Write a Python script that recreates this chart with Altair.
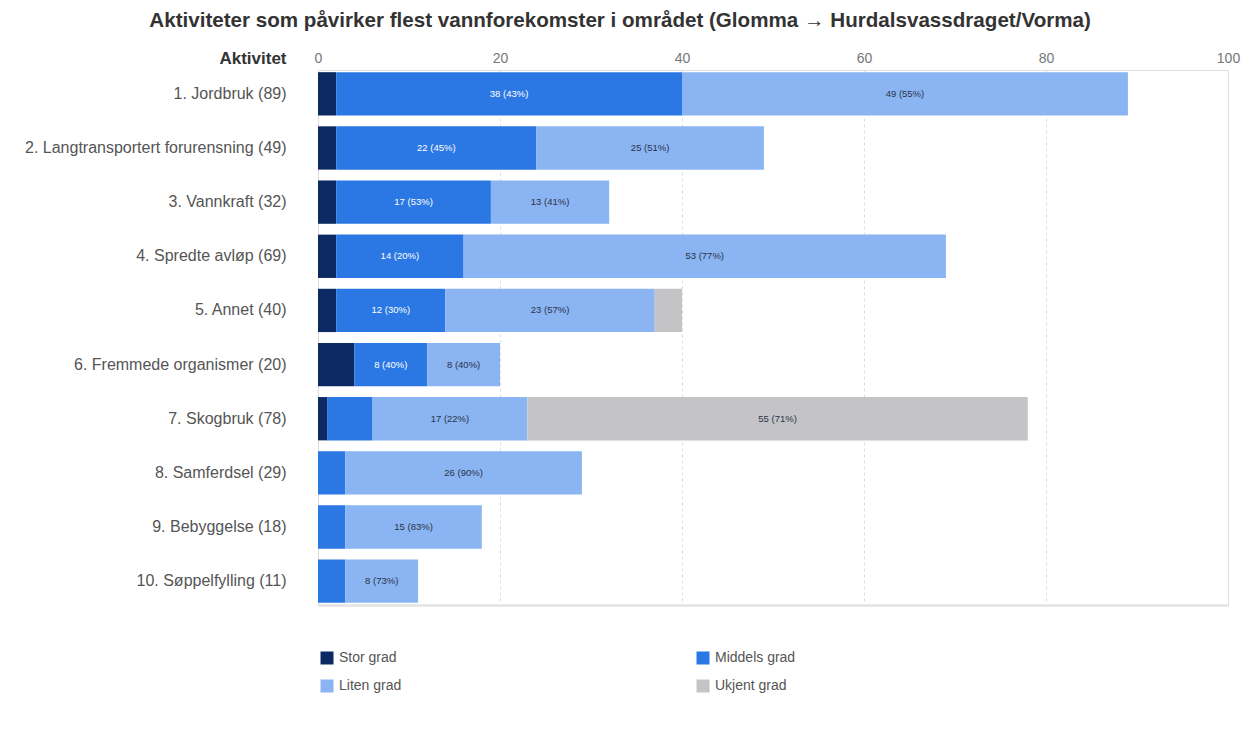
import altair as alt
import pandas as pd

activities = [
    "1. Jordbruk (89)",
    "2. Langtransportert forurensning (49)",
    "3. Vannkraft (32)",
    "4. Spredte avløp (69)",
    "5. Annet (40)",
    "6. Fremmede organismer (20)",
    "7. Skogbruk (78)",
    "8. Samferdsel (29)",
    "9. Bebyggelse (18)",
    "10. Søppelfylling (11)",
]
levels = ["Stor grad", "Middels grad", "Liten grad", "Ukjent grad"]
colors = ["#0b2a63", "#2b78e4", "#8ab4f2", "#c4c4c7"]

stor = [2, 2, 2, 2, 2, 4, 1, 0, 0, 0]
middels = [38, 22, 17, 14, 12, 8, 5, 3, 3, 3]
liten = [49, 25, 13, 53, 23, 8, 17, 26, 15, 8]
ukjent = [0, 0, 0, 0, 3, 0, 55, 0, 0, 0]

# percentages as printed in the bars (None = no label shown)
stor_pct = [None] * 10
middels_pct = [43, 45, 53, 20, 30, 40, None, None, None, None]
liten_pct = [55, 51, 41, 77, 57, 40, 22, 90, 83, 73]
ukjent_pct = [None, None, None, None, None, None, 71, None, None, None]

rows = []
for lvl_i, (lvl, vals, pcts) in enumerate(zip(
        levels, [stor, middels, liten, ukjent],
        [stor_pct, middels_pct, liten_pct, ukjent_pct])):
    for a, v, p in zip(activities, vals, pcts):
        if v > 0:
            rows.append({
                "activity": a,
                "level": lvl,
                "order": lvl_i,
                "value": v,
                "label": f"{v} ({p}%)" if p is not None else "",
            })
df = pd.DataFrame(rows)

FONT = "Liberation Sans"

base = alt.Chart(df).transform_stack(
    stack="value",
    groupby=["activity"],
    as_=["x0", "x1"],
    sort=[alt.SortField("order", order="ascending")],
)

y_enc = alt.Y(
    "activity:N",
    sort=activities,
    scale=alt.Scale(paddingInner=0.2, paddingOuter=0.04),
    axis=alt.Axis(
        title="Aktivitet",
        titleAngle=0,
        titleAlign="right",
        titleBaseline="middle",
        titleX=-32,
        titleY=-12,
        titleFontSize=17,
        titleFontWeight="bold",
        titleColor="#333333",
        titleFont=FONT,
        labelFontSize=16,
        labelColor="#555555",
        labelFont=FONT,
        labelPadding=32,
        labelLimit=400,
        ticks=False,
        domain=False,
    ),
)

bars = base.mark_bar().encode(
    y=y_enc,
    x=alt.X(
        "x0:Q",
        scale=alt.Scale(domain=[0, 100], nice=False),
        axis=alt.Axis(
            orient="top",
            title=None,
            values=[0, 20, 40, 60, 80, 100],
            labelFontSize=14,
            labelColor="#777777",
            labelFont=FONT,
            labelPadding=5,
            labelFlush=False,
            ticks=False,
            domain=False,
            grid=True,
            gridColor="#dddddd",
            gridDash=[3, 3],
        ),
    ),
    x2="x1:Q",
    color=alt.Color(
        "level:N",
        scale=alt.Scale(domain=levels, range=colors),
        legend=alt.Legend(
            title=None,
            orient="none",
            direction="horizontal",
            legendX=2,
            legendY=581,
            columns=2,
            columnPadding=294,
            rowPadding=14,
            symbolType="square",
            symbolSize=169,
            symbolStrokeWidth=0,
            labelFontSize=14,
            labelColor="#555555",
            labelFont=FONT,
            labelOffset=5,
        ),
    ),
)

text_base = base.transform_filter("datum.label != ''").transform_calculate(
    mid="(datum.x0 + datum.x1) / 2"
)

x_text = alt.X(
    "mid:Q",
    axis=alt.Axis(
        orient="bottom",
        title=None,
        labels=False,
        ticks=False,
        grid=False,
        domain=True,
        domainColor="#e3e3e3",
        domainWidth=2,
    ),
)

text_white = text_base.transform_filter(
    "datum.level == 'Middels grad'"
).mark_text(fontSize=9.5, font=FONT, color="#ffffff").encode(
    y=alt.Y("activity:N", sort=activities),
    x=x_text,
    text="label:N",
)

text_dark = text_base.transform_filter(
    "datum.level != 'Middels grad'"
).mark_text(fontSize=9.5, font=FONT, color="#2a3348").encode(
    y=alt.Y("activity:N", sort=activities),
    x=x_text,
    text="label:N",
)

chart = alt.layer(bars, text_white, text_dark).resolve_axis(
    x="independent"
).properties(
    width=910,
    height=535,
    autosize=alt.AutoSizeParams(type="none"),
    padding={"left": 310, "top": 62, "right": 16, "bottom": 100},
    title=alt.Title(
        "Aktiviteter som påvirker flest vannforekomster i området (Glomma → Hurdalsvassdraget/Vorma)",
        anchor="middle",
        frame="bounds",
        fontSize=20.6,
        fontWeight="bold",
        color="#333333",
        font=FONT,
        offset=17,
        dx=-12,
    ),
).configure_view(stroke=None).configure(background="white")

chart.save("out.html", embed_options={"renderer": "svg", "actions": False})
